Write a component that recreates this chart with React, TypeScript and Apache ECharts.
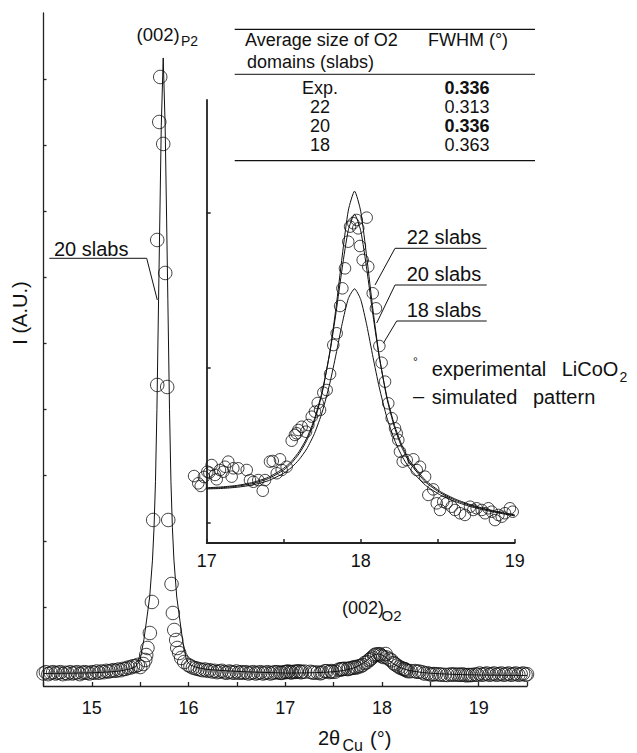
import React, { useEffect, useRef } from "react";
import * as echarts from "echarts";

const FONT = "'Liberation Sans', Arial, Helvetica, sans-serif";
const INK = "#111";

// ---------- main panel: experimental points (2theta, intensity in tick units) ----------
const mainExpLeft: [number, number][] = [
  [14.5, 0.19], [14.525, 0.21], [14.55, 0.18], [14.575, 0.2], [14.6, 0.21], [14.625, 0.19],
  [14.65, 0.2], [14.675, 0.21], [14.7, 0.18], [14.725, 0.2], [14.75, 0.19], [14.775, 0.21],
  [14.8, 0.19], [14.825, 0.2], [14.85, 0.21], [14.875, 0.18], [14.9, 0.2], [14.925, 0.21],
  [14.95, 0.2], [14.975, 0.19], [15.0, 0.21], [15.025, 0.2], [15.05, 0.22], [15.075, 0.2],
  [15.1, 0.22], [15.125, 0.21], [15.15, 0.23], [15.175, 0.22], [15.2, 0.23], [15.225, 0.24],
  [15.25, 0.23], [15.275, 0.25], [15.3, 0.24], [15.325, 0.26], [15.35, 0.26], [15.375, 0.28],
  [15.4, 0.28], [15.425, 0.3], [15.45, 0.3], [15.475, 0.32],
  [15.5, 0.288], [15.531, 0.334], [15.552, 0.395], [15.562, 0.47], [15.575, 0.577], [15.6, 0.804],
  [15.621, 1.275], [15.634, 2.519], [15.676, 4.568], [15.676, 6.768], [15.697, 8.558], [15.707, 9.241],
  [15.738, 8.225], [15.759, 6.267], [15.779, 4.537], [15.79, 2.519], [15.824, 1.548], [15.838, 1.108],
  [15.852, 0.85], [15.872, 0.698], [15.883, 0.577], [15.903, 0.501], [15.924, 0.425], [15.955, 0.364],
  [15.996, 0.319],
  [16.02, 0.3], [16.045, 0.28], [16.07, 0.27], [16.095, 0.26], [16.12, 0.25], [16.145, 0.24],
  [16.17, 0.25], [16.195, 0.23], [16.22, 0.24], [16.245, 0.22], [16.27, 0.23], [16.295, 0.21],
  [16.32, 0.22], [16.345, 0.23], [16.37, 0.21], [16.395, 0.2], [16.42, 0.22], [16.445, 0.21],
  [16.47, 0.2], [16.495, 0.22], [16.52, 0.2], [16.545, 0.21], [16.57, 0.2], [16.595, 0.21],
  [16.62, 0.19], [16.645, 0.2], [16.67, 0.21], [16.695, 0.19], [16.72, 0.2], [16.745, 0.21],
  [16.77, 0.19], [16.795, 0.2], [16.82, 0.21], [16.845, 0.19], [16.87, 0.2], [16.895, 0.21],
];

const mainExpRight: [number, number][] = [
  [19.01, 0.19], [19.035, 0.17], [19.06, 0.18], [19.085, 0.19], [19.11, 0.17], [19.135, 0.18],
  [19.16, 0.19], [19.185, 0.17], [19.21, 0.18], [19.235, 0.19], [19.26, 0.17], [19.285, 0.18],
  [19.31, 0.19], [19.335, 0.17], [19.36, 0.18], [19.385, 0.19], [19.41, 0.17], [19.435, 0.18],
  [19.46, 0.19], [19.485, 0.17], [19.5, 0.18],
];

// ---------- main panel: simulated pattern (20 slabs) ----------
const mainSimLeft: [number, number][] = [
  [14.5, 0.19], [14.8, 0.195], [15.0, 0.2], [15.2, 0.215], [15.3, 0.23], [15.4, 0.26], [15.45, 0.29],
  [15.498, 0.39], [15.538, 0.7], [15.566, 1.0], [15.598, 1.35], [15.627, 1.91], [15.643, 2.4],
  [15.658, 3.1], [15.673, 4.2], [15.69, 5.86], [15.703, 7.1], [15.718, 8.5], [15.738, 9.53],
  [15.758, 8.5], [15.773, 7.1], [15.786, 5.86], [15.803, 4.2], [15.818, 3.1], [15.833, 2.4],
  [15.849, 1.91], [15.878, 1.35], [15.91, 1.0], [15.938, 0.7], [15.978, 0.39], [16.018, 0.32],
  [16.088, 0.28], [16.2, 0.25], [16.4, 0.23], [16.6, 0.215], [16.8, 0.205], [16.95, 0.2],
];
const mainSimRight: [number, number][] = [[19.25, 0.163], [19.5, 0.16]];

// ---------- inset: experimental points (2theta, intensity in inset tick units) ----------
const insetExp: [number, number][] = [
  [16.918, 0.432], [16.945, 0.385], [16.961, 0.368], [16.982, 0.426], [17.004, 0.46], [17.017, 0.454],
  [17.032, 0.503], [17.054, 0.439], [17.065, 0.411], [17.086, 0.471], [17.108, 0.46], [17.119, 0.492],
  [17.14, 0.525], [17.162, 0.428], [17.173, 0.482], [17.205, 0.482], [17.26, 0.471], [17.281, 0.406],
  [17.303, 0.395], [17.335, 0.406], [17.364, 0.337], [17.379, 0.406], [17.411, 0.525], [17.429, 0.529],
  [17.455, 0.45], [17.476, 0.54], [17.487, 0.471], [17.519, 0.492], [17.552, 0.66], [17.573, 0.697],
  [17.584, 0.708], [17.595, 0.729], [17.617, 0.75], [17.645, 0.718], [17.66, 0.761], [17.682, 0.815],
  [17.703, 0.847], [17.721, 0.903], [17.736, 0.858], [17.757, 0.97], [17.779, 0.987], [17.801, 1.09],
  [17.822, 1.277], [17.844, 1.353], [17.866, 1.529], [17.881, 1.643], [17.898, 1.772], [17.919, 1.944],
  [17.931, 2.041], [17.952, 2.063], [17.974, 2.084], [17.984, 2.03], [17.995, 1.916], [18.013, 1.826],
  [18.039, 2.099], [18.049, 1.783], [18.078, 1.611], [18.099, 1.514], [18.121, 1.271], [18.136, 1.163],
  [18.158, 1.041], [18.179, 0.901], [18.201, 0.805], [18.223, 0.74], [18.234, 0.708], [18.244, 0.665],
  [18.255, 0.589], [18.273, 0.525], [18.299, 0.535], [18.342, 0.54], [18.364, 0.471], [18.385, 0.492],
  [18.418, 0.428], [18.439, 0.31], [18.471, 0.346], [18.494, 0.256], [18.515, 0.213], [18.536, 0.266],
  [18.558, 0.256], [18.591, 0.234], [18.612, 0.213], [18.645, 0.192], [18.677, 0.181], [18.71, 0.234],
  [18.731, 0.213], [18.753, 0.224], [18.786, 0.213], [18.807, 0.192], [18.829, 0.224], [18.851, 0.202],
  [18.872, 0.148], [18.894, 0.181], [18.916, 0.17], [18.937, 0.192], [18.969, 0.224], [18.987, 0.202],
];

// ---------- inset: simulated curves ----------
const insetX = [17.0, 17.1, 17.2, 17.3, 17.4, 17.5, 17.55, 17.6, 17.65, 17.7, 17.75, 17.8, 17.84, 17.88,
  17.92, 17.96, 18.0, 18.04, 18.08, 18.12, 18.17, 18.22, 18.27, 18.32, 18.42, 18.52, 18.62, 18.72,
  18.82, 18.92, 19.0];
const sim22 = [0.353, 0.357, 0.367, 0.384, 0.415, 0.471, 0.515, 0.576, 0.662, 0.787, 0.969, 1.236, 1.521,
  1.852, 2.148, 2.27, 2.141, 1.838, 1.501, 1.209, 0.934, 0.744, 0.61, 0.516, 0.394, 0.322, 0.274, 0.24,
  0.214, 0.193, 0.178];
const sim20 = [0.356, 0.362, 0.372, 0.391, 0.424, 0.482, 0.527, 0.59, 0.677, 0.801, 0.979, 1.23, 1.488,
  1.775, 2.021, 2.12, 2.015, 1.762, 1.468, 1.203, 0.944, 0.758, 0.625, 0.53, 0.405, 0.33, 0.281, 0.245,
  0.218, 0.196, 0.181];
const sim18 = [0.349, 0.352, 0.36, 0.375, 0.402, 0.45, 0.487, 0.538, 0.608, 0.707, 0.845, 1.032, 1.218,
  1.416, 1.578, 1.64, 1.571, 1.402, 1.198, 1.006, 0.809, 0.664, 0.557, 0.478, 0.373, 0.308, 0.265, 0.233,
  0.209, 0.189, 0.175];

// inset intensity -> main intensity (same data, main scale)
const MAIN_BASE = 0.137;
const MAIN_SCALE = 0.166;

// axis ticks (unlabelled intensity ticks)
const mainYTicks = [1.2, 2.2, 3.2, 4.2, 5.2, 6.2, 7.2, 8.2, 9.2];
const insetYTicks = [0.129, 1.129, 2.129];

// table
const tableSizes = ["Exp.", "22", "20", "18"];
const tableFwhm = ["0.336", "0.313", "0.336", "0.363"];
const tableBold = [true, false, true, false];

const T = (x: number, y: number, text: string, size = 18, align = "left", extra: any = {}) => ({
  type: "text",
  x,
  y,
  silent: true,
  z: 100,
  style: {
    text,
    fontSize: size,
    fontFamily: FONT,
    fill: INK,
    align,
    verticalAlign: "middle",
    textAlign: align,
    textVerticalAlign: "middle",
    ...extra,
  },
});
const L = (x1: number, y1: number, x2: number, y2: number, w = 1) => ({
  type: "line",
  silent: true,
  z: 100,
  shape: { x1, y1, x2, y2 },
  style: { stroke: INK, lineWidth: w },
});
const P = (points: number[][]) => ({
  type: "polyline",
  silent: true,
  z: 100,
  shape: { points },
  style: { stroke: INK, lineWidth: 1, fill: null },
});

export default function App() {
  const ref = useRef<HTMLDivElement>(null);
  useEffect(() => {
    if (!ref.current) return;
    const chart = echarts.init(ref.current, undefined, { renderer: "svg" });

    const toMain = (y: number) => MAIN_BASE + MAIN_SCALE * y;
    const mainExp = [
      ...mainExpLeft,
      ...insetExp.map(([x, y]) => [x, toMain(y)]),
      ...mainExpRight,
    ];
    const mainSim = [
      ...mainSimLeft,
      ...insetX.map((x, i) => [x, toMain(sim20[i])]),
      ...mainSimRight,
    ];
    const curve = (arr: number[]) => insetX.map((x, i) => [x, arr[i]]);

    const axisLineStyle = { color: "#222", width: 1.3 };
    const intLabel = (v: number) => (Math.abs(v - Math.round(v)) < 1e-6 ? String(Math.round(v)) : "");

    const tableRowsY = [88.3, 107.3, 126, 145];
    const graphics: any[] = [
      // table
      L(234.7, 29.3, 535, 29.3, 1.2),
      L(234.7, 74.3, 535, 74.3, 1),
      L(234.7, 160.7, 535, 160.7, 1.2),
      T(245, 40, "Average size of O2"),
      T(247, 61.7, "domains (slabs)"),
      T(468, 40, "FWHM (°)", 18, "center"),
      ...tableSizes.map((s, i) => T(320, tableRowsY[i], s, 18, "center")),
      ...tableFwhm.map((s, i) =>
        T(467, tableRowsY[i], s, 18, "center", { fontWeight: tableBold[i] ? "bold" : "normal" })
      ),
      // peak labels
      T(136.5, 34, "(002)", 18.5),
      T(181, 40.5, "P2", 14),
      T(342, 608, "(002)", 18),
      T(381.5, 615, "O2", 15),
      // main 20 slabs annotation
      T(54, 249, "20 slabs", 20),
      P([[49.3, 258.3], [146.7, 258.3], [157.3, 300]]),
      // inset annotations
      T(406.7, 237, "22 slabs", 20),
      P([[486.7, 248.3], [395, 248.3], [375, 285]]),
      T(406.7, 273.5, "20 slabs", 20),
      P([[486.7, 285], [395, 285], [376.7, 323]]),
      T(406.7, 309.5, "18 slabs", 20),
      P([[486.7, 321], [396.7, 321], [383.3, 343.3]]),
      // legend
      T(413, 362, "°", 12),
      T(431.7, 369, "experimental", 20),
      T(561.7, 369, "LiCoO", 20),
      T(619.5, 377, "2", 14),
      T(413, 396, "–", 20),
      T(431.7, 397, "simulated", 20),
      T(533, 397, "pattern", 20),
      // axis titles
      T(318, 738, "2θ", 20),
      T(342.5, 745, "Cu", 16),
      T(370, 739, "(°)", 20),
      { ...T(20, 313, "I (A.U.)", 20, "center"), rotation: Math.PI / 2 },
    ];

    chart.setOption({
      animation: false,
      backgroundColor: "#fff",
      textStyle: { fontFamily: FONT },
      grid: [
        { left: 43.5, top: 13, width: 483.5, height: 673 },
        { left: 206.7, top: 100, width: 308, height: 443 },
      ],
      xAxis: [
        {
          gridIndex: 0, type: "value", min: 14.5, max: 19.5, interval: 0.5,
          axisLine: { onZero: false, lineStyle: axisLineStyle },
          axisTick: { inside: true, length: 4, lineStyle: axisLineStyle },
          axisLabel: { formatter: intLabel, fontSize: 18, color: INK, margin: 13, fontFamily: FONT,
            showMinLabel: true, showMaxLabel: true },
          splitLine: { show: false },
        },
        {
          gridIndex: 1, type: "value", min: 17, max: 19, interval: 0.5,
          axisLine: { onZero: false, lineStyle: { color: "#222", width: 1.8 } },
          axisTick: { inside: true, length: 4, lineStyle: { color: "#222", width: 1.5 } },
          axisLabel: { formatter: intLabel, fontSize: 18, color: INK, margin: 9, fontFamily: FONT,
            showMinLabel: true, showMaxLabel: true },
          splitLine: { show: false },
        },
      ],
      yAxis: [
        {
          gridIndex: 0, type: "value", min: 0, max: 10.212,
          axisLine: { show: true, onZero: false, lineStyle: axisLineStyle },
          axisTick: { show: true, inside: true, length: 3, customValues: mainYTicks, lineStyle: axisLineStyle },
          axisLabel: { show: false },
          splitLine: { show: false },
        },
        {
          gridIndex: 1, type: "value", min: 0, max: 2.858,
          axisLine: { show: true, onZero: false, lineStyle: { color: "#222", width: 1.8 } },
          axisTick: { show: true, inside: true, length: 4, customValues: insetYTicks,
            lineStyle: { color: "#222", width: 1.5 } },
          axisLabel: { show: false },
          splitLine: { show: false },
        },
      ],
      series: [
        {
          name: "simulated (main)", type: "line", xAxisIndex: 0, yAxisIndex: 0, data: mainSim,
          showSymbol: false, symbol: "none", lineStyle: { color: INK, width: 1 }, z: 3,
        },
        {
          name: "experimental (main)", type: "scatter", xAxisIndex: 0, yAxisIndex: 0, data: mainExp,
          symbol: "circle", symbolSize: 13.5,
          itemStyle: { color: "rgba(0,0,0,0)", borderColor: INK, borderWidth: 1 }, z: 2,
        },
        {
          name: "22 slabs", type: "line", xAxisIndex: 1, yAxisIndex: 1, data: curve(sim22),
          showSymbol: false, symbol: "none", smooth: 0.2, lineStyle: { color: INK, width: 1 }, z: 3,
        },
        {
          name: "20 slabs", type: "line", xAxisIndex: 1, yAxisIndex: 1, data: curve(sim20),
          showSymbol: false, symbol: "none", smooth: 0.2, lineStyle: { color: INK, width: 1 }, z: 3,
        },
        {
          name: "18 slabs", type: "line", xAxisIndex: 1, yAxisIndex: 1, data: curve(sim18),
          showSymbol: false, symbol: "none", smooth: 0.2, lineStyle: { color: INK, width: 1 }, z: 3,
        },
        {
          name: "experimental (inset)", type: "scatter", xAxisIndex: 1, yAxisIndex: 1, data: insetExp,
          symbol: "circle", symbolSize: 11.5, clip: false,
          itemStyle: { color: "rgba(0,0,0,0)", borderColor: INK, borderWidth: 1 }, z: 2,
        },
      ],
      graphic: { elements: graphics },
    });
    return () => chart.dispose();
  }, []);

  return (
    <div
      ref={ref}
      style={{ position: "fixed", left: 0, top: 0, width: 637, height: 753, background: "#fff" }}
    />
  );
}
